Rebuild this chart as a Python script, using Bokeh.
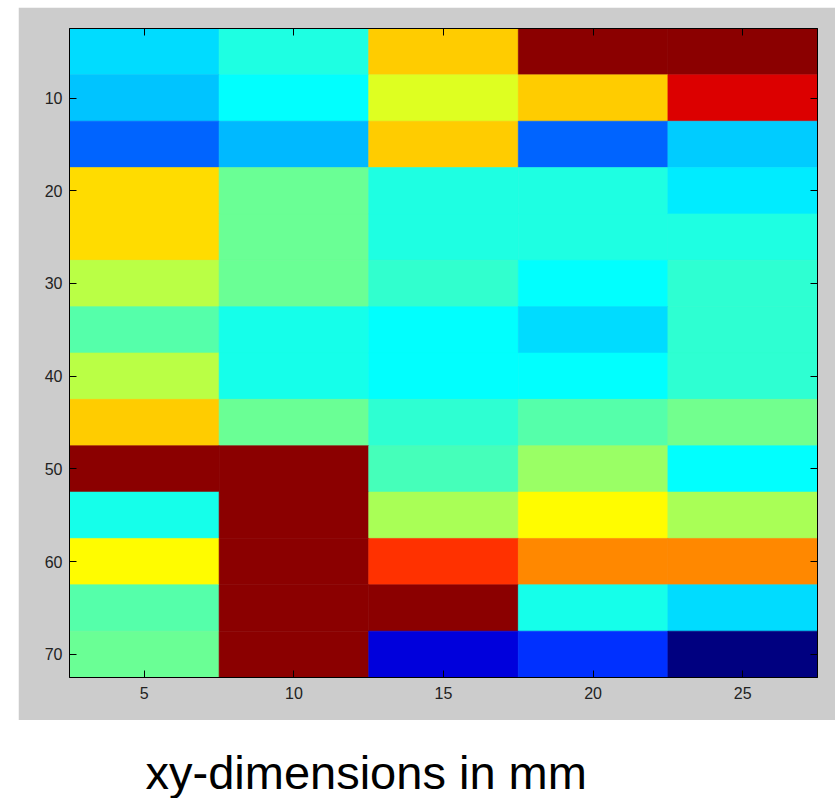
from bokeh.plotting import figure
from bokeh.models import (ColumnDataSource, LinearColorMapper, Range1d, FixedTicker,
                          LinearAxis, CustomJSTickFormatter, Label, Spacer)
from bokeh.layouts import column, row
from bokeh.embed import file_html
from bokeh.resources import INLINE

# ---- data -------------------------------------------------------------
x_centers = [5, 10, 15, 20, 25]
y_centers = [5, 10, 15, 20, 25, 30, 35, 40, 45, 50, 55, 60, 65, 70]
x_ticks = [5, 10, 15, 20, 25]
y_ticks = [10, 20, 30, 40, 50, 60, 70]
cell_size = 5
values = [
    [0.342, 0.405, 0.675, 0.985, 0.985],
    [0.320, 0.375, 0.592, 0.675, 0.908],
    [0.225, 0.308, 0.675, 0.225, 0.325],
    [0.658, 0.480, 0.405, 0.405, 0.358],
    [0.658, 0.480, 0.405, 0.405, 0.405],
    [0.558, 0.480, 0.425, 0.375, 0.420],
    [0.458, 0.395, 0.375, 0.342, 0.420],
    [0.558, 0.395, 0.375, 0.375, 0.420],
    [0.675, 0.480, 0.420, 0.458, 0.485],
    [0.985, 0.985, 0.442, 0.525, 0.375],
    [0.395, 0.985, 0.540, 0.625, 0.540],
    [0.625, 0.985, 0.825, 0.742, 0.742],
    [0.458, 0.985, 0.985, 0.395, 0.342],
    [0.480, 0.985, 0.092, 0.175, 0.000],
]
x_label = "xy-dimensions in mm"

# ---- jet colormap ---------------------------------------------------------
def _clip(v):
    return max(0.0, min(1.0, v))

def jet(n=256):
    pal = []
    for i in range(n):
        t = i / (n - 1)
        r = _clip(1.5 - abs(4 * t - 3))
        g = _clip(1.5 - abs(4 * t - 2))
        b = _clip(1.5 - abs(4 * t - 1))
        pal.append("#%02x%02x%02x" % (round(r * 255), round(g * 255), round(b * 255)))
    return pal

mapper = LinearColorMapper(palette=jet(256), low=0.0, high=1.0)

xs, ys, vs = [], [], []
for yi, yc in enumerate(y_centers):
    for xi, xc in enumerate(x_centers):
        xs.append(xc)
        ys.append(yc)
        vs.append(values[yi][xi])
src = ColumnDataSource(dict(x=xs, y=ys, v=vs))

GRAY = "#cccccc"
TICK_FONT = "Liberation Sans"

p = figure(width=817, height=713, output_backend="svg", toolbar_location=None,
           x_range=Range1d(2.5, 27.5), y_range=Range1d(72.5, 2.5),
           min_border_left=51, min_border_right=18, min_border_top=21, min_border_bottom=43,
           border_fill_color=GRAY, background_fill_color=GRAY,
           outline_line_color="black", outline_line_width=1)
p.rect(x="x", y="y", width=cell_size, height=cell_size, source=src,
       fill_color={"field": "v", "transform": mapper},
       line_color={"field": "v", "transform": mapper}, line_width=0.6)
p.grid.visible = False

for ax in (p.xaxis[0], p.yaxis[0]):
    ax.major_tick_in = 7
    ax.major_tick_out = 0
    ax.minor_tick_line_color = None
    ax.axis_line_color = "black"
    ax.major_tick_line_color = "black"
    ax.major_label_text_font = TICK_FONT
    ax.major_label_text_font_size = "16px"
    ax.major_label_text_color = "#222222"
p.xaxis[0].ticker = FixedTicker(ticks=x_ticks)
p.yaxis[0].ticker = FixedTicker(ticks=y_ticks)
p.xaxis[0].major_label_standoff = 9
p.yaxis[0].major_label_standoff = 7

blank = CustomJSTickFormatter(code="return '';")
top_ax = LinearAxis(ticker=FixedTicker(ticks=x_ticks), formatter=blank)
right_ax = LinearAxis(ticker=FixedTicker(ticks=y_ticks), formatter=blank)
for ax in (top_ax, right_ax):
    ax.major_tick_in = 7
    ax.major_tick_out = 0
    ax.minor_tick_line_color = None
    ax.axis_line_color = "black"
    ax.major_tick_line_color = "black"
    ax.major_label_standoff = 0
    ax.major_label_text_font_size = "1px"
p.add_layout(top_ax, "above")
p.add_layout(right_ax, "right")

p2 = figure(width=835, height=78, output_backend="svg", toolbar_location=None,
            x_range=Range1d(0, 835), y_range=Range1d(0, 78),
            x_axis_type=None, y_axis_type=None, min_border=0,
            outline_line_color=None, border_fill_color="white",
            background_fill_color="white", title=None)
p2.grid.visible = False
p2.add_layout(Label(x=145, y=53, text=x_label,
                    text_font="Liberation Sans", text_font_size="47px",
                    text_color="black", text_baseline="top"))

layout = column(Spacer(width=835, height=7),
                row(Spacer(width=18, height=713), p),
                p2, spacing=0)

open("out.html", "w").write(file_html(layout, INLINE))
